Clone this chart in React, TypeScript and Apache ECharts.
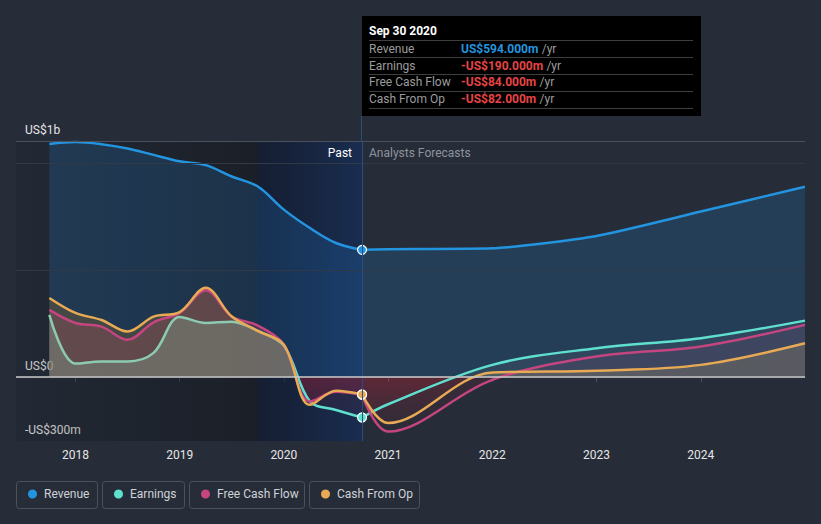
import React, { useEffect, useRef } from "react";
import * as echarts from "echarts";

// ---- data ----
const yearTicks = [2018, 2019, 2020, 2021, 2022, 2023, 2024];
const yLabelValues = [-300, 0, 1103];
const yLabelTexts = ["-US$300m", "US$0", "US$1b"];

const pastPeriods = [2017.75, 2018, 2018.25, 2018.5, 2018.75, 2019, 2019.25, 2019.5, 2019.75, 2020, 2020.25, 2020.5, 2020.75];
const forecastPeriods = [2020.75, 2021, 2022, 2023, 2024, 2025];

const revenuePast = [1089, 1098, 1088, 1068, 1038, 1008, 990, 937, 890, 782, 696, 626, 594];
const revenueForecast = [594, 597, 601, 659, 773, 889];

const earningsPast = [290, 62, 72, 72, 112, 280, 252, 258, 215, 145, -115, -155, -190];
const earningsForecast = [-190, -128, 56, 134, 181, 263];

const fcfPast = [313, 252, 235, 173, 255, 299, 405, 282, 240, 150, -115, -70, -84];
const fcfForecast = [-84, -256, -14, 95, 142, 243];

const cfoPast = [369, 299, 266, 212, 282, 303, 417, 282, 215, 150, -131, -65, -82];
const cfoForecast = [-82, -216, 20, 29, 56, 157];

const tooltipTitle = "Sep 30 2020";
const tooltipLabels = ["Revenue", "Earnings", "Free Cash Flow", "Cash From Op"];
const tooltipValues = ["US$594.000m", "-US$190.000m", "-US$84.000m", "-US$82.000m"];

const names = ["Revenue", "Earnings", "Free Cash Flow", "Cash From Op"];
const colors = ["#2394df", "#5fe0cf", "#c4457f", "#e8aa55"];

const FONT = "Roboto, 'Noto Sans', sans-serif";

function pastData(vals: number[], color: string) {
  return pastPeriods.map((t, i) =>
    i === pastPeriods.length - 1
      ? {
          value: [t, vals[i]],
          symbol: "circle",
          symbolSize: 9,
          itemStyle: { color, borderColor: "#ffffff", borderWidth: 1.2 },
        }
      : { value: [t, vals[i]], symbol: "none" }
  );
}
function fcData(vals: number[]) {
  return forecastPeriods.map((t, i) => [t, vals[i]]);
}

// vertical gradient in pixel space of the plot: positive colour above zero, fading red below
function areaGrad(pos: string, neg: string) {
  const top = 141;
  const bottom = 441;
  const z = (377 - top) / (bottom - top);
  return new echarts.graphic.LinearGradient(
    0,
    top,
    0,
    bottom,
    [
      { offset: 0, color: pos },
      { offset: z, color: pos },
      { offset: z, color: neg },
      { offset: 1, color: "rgba(200,30,50,0)" },
    ],
    true
  );
}

export default function App() {
  const ref = useRef<HTMLDivElement>(null);
  useEffect(() => {
    if (!ref.current) return;
    const chart = echarts.init(ref.current, null, { renderer: "svg" });

    const NEG = "rgba(200,30,50,0.13)";
    const pastFills: any[] = [
      "rgba(33,150,243,0.17)",
      areaGrad("rgba(95,224,207,0.38)", NEG),
      areaGrad("rgba(196,64,123,0.26)", NEG),
      areaGrad("rgba(150,110,40,0.30)", NEG),
    ];
    const fcFills: any[] = [
      "rgba(33,150,243,0.17)",
      areaGrad("rgba(150,150,140,0.09)", NEG),
      areaGrad("rgba(196,64,123,0.10)", NEG),
      areaGrad("rgba(150,140,100,0.30)", NEG),
    ];
    // past earnings line looks muted where it lies under the cash-flow fills
    const pastLineColors: any[] = [
      colors[0],
      new echarts.graphic.LinearGradient(
        280,
        0,
        300,
        0,
        [
          { offset: 0, color: "#8ccab2" },
          { offset: 1, color: colors[1] },
        ],
        true
      ),
      colors[2],
      colors[3],
    ];
    const pastVals = [revenuePast, earningsPast, fcfPast, cfoPast];
    const fcVals = [revenueForecast, earningsForecast, fcfForecast, cfoForecast];
    const order = [0, 1, 2, 3];

    const series: any[] = [
      {
        type: "line",
        name: "bg",
        z: 0,
        silent: true,
        symbol: "none",
        data: [[2017.5, 0]],
        lineStyle: { opacity: 0 },
        markArea: {
          silent: true,
          data: [
            [
              {
                xAxis: 2017.43,
                itemStyle: {
                  color: new echarts.graphic.LinearGradient(0, 0, 1, 0, [
                    { offset: 0, color: "rgba(10,12,16,0.12)" },
                    { offset: 1, color: "rgba(10,12,16,0.42)" },
                  ]),
                },
              },
              { xAxis: 2019.75 },
            ],
            [
              {
                xAxis: 2019.75,
                itemStyle: {
                  color: new echarts.graphic.LinearGradient(0, 0, 1, 0, [
                    { offset: 0, color: "rgba(10,20,45,0.6)" },
                    { offset: 1, color: "rgba(20,45,90,0.7)" },
                  ]),
                },
              },
              { xAxis: 2020.75 },
            ],
          ],
        },
        markLine: {
          silent: true,
          symbol: "none",
          label: { show: false },
          data: [
            { yAxis: 1103, lineStyle: { color: "#4a515d", width: 1, type: "solid" } },
            { yAxis: 1000, lineStyle: { color: "#323946", width: 1, type: "solid" } },
            { yAxis: 500, lineStyle: { color: "#323946", width: 1, type: "solid" } },
            { xAxis: 2020.75, lineStyle: { color: "#27507f", width: 1, type: "solid" } },
          ],
        },
      },
    ];

    order.forEach((k) => {
      series.push({
        type: "line",
        name: names[k],
        z: 2,
        smooth: 0.35,
        symbol: "none",
        data: pastData(pastVals[k], colors[k]),
        lineStyle: { color: pastLineColors[k], width: 2.5 },
        itemStyle: { color: colors[k] },
        areaStyle: { color: pastFills[k], opacity: 1 },
      });
      series.push({
        type: "line",
        name: names[k],
        z: 2,
        smooth: k === 0 ? 0.2 : 0.35,
        symbol: "none",
        data: fcData(fcVals[k]),
        lineStyle: { color: colors[k], width: 2.5 },
        itemStyle: { color: colors[k] },
        areaStyle: { color: fcFills[k], opacity: 1 },
      });
    });

    series.push({
      type: "line",
      name: "zero",
      z: 3,
      silent: true,
      symbol: "none",
      data: [[2017.5, 0]],
      lineStyle: { opacity: 0 },
      markLine: {
        silent: true,
        symbol: "none",
        label: { show: false },
        data: [{ yAxis: 0, lineStyle: { color: "#c8c8c8", width: 1.5, type: "solid" } }],
      },
    });

    const legendLefts = [28, 114, 201, 321];
    const legends = names.map((n, i) => ({
      data: [n],
      left: legendLefts[i],
      top: 488,
      padding: 0,
      icon: "circle",
      itemWidth: 9,
      itemHeight: 9,
      selectedMode: false,
      textStyle: { color: "#cfd2d6", fontSize: 12, fontFamily: FONT, padding: [0, 0, 0, 2] },
    }));

    const boxes = [
      [16.5, 81],
      [102.5, 82],
      [189.5, 115],
      [309.5, 110],
    ];

    const graphic: any[] = [];
    boxes.forEach(([x, w]) =>
      graphic.push({
        type: "rect",
        silent: true,
        z: -1,
        shape: { x, y: 481.5, width: w, height: 27, r: 3 },
        style: { fill: "none", stroke: "#4b525e", lineWidth: 1 },
      })
    );
    graphic.push({
      type: "rect",
      silent: true,
      z: 100,
      shape: { x: 362, y: 16, width: 339, height: 100 },
      style: { fill: "#000000" },
    });
    graphic.push({
      type: "line",
      silent: true,
      z: 100,
      shape: { x1: 361.5, y1: 116, x2: 361.5, y2: 141 },
      style: { stroke: "#27507f", lineWidth: 1 },
    });
    graphic.push({
      type: "text",
      silent: true,
      z: 101,
      x: 369,
      y: 31,
      style: {
        text: tooltipTitle,
        fill: "#ffffff",
        font: `bold 12px ${FONT}`,
        verticalAlign: "middle",
      },
    });
    [40.5, 57.5, 74.5, 91.5, 108.5].forEach((y) =>
      graphic.push({
        type: "line",
        silent: true,
        z: 101,
        shape: { x1: 369, y1: y, x2: 693, y2: y },
        style: { stroke: "#3e3e3e", lineWidth: 1 },
      })
    );
    const rowYs = [48.5, 65.5, 82, 98.5];
    tooltipLabels.forEach((lab, i) => {
      graphic.push({
        type: "text",
        silent: true,
        z: 101,
        x: 369,
        y: rowYs[i],
        style: {
          text: lab,
          fill: "#9c9c9c",
          font: `12px ${FONT}`,
          verticalAlign: "middle",
        },
      });
      graphic.push({
        type: "text",
        silent: true,
        z: 101,
        x: 461,
        y: rowYs[i],
        style: {
          text: `{v|${tooltipValues[i]}} {u|/yr}`,
          verticalAlign: "middle",
          rich: {
            v: {
              fill: i === 0 ? "#2394df" : "#e54545",
              font: `bold 12px ${FONT}`,
            },
            u: { fill: "#9c9c9c", font: `12px ${FONT}` },
          },
        },
      });
    });
    graphic.push({
      type: "text",
      silent: true,
      z: 101,
      x: 352,
      y: 153,
      style: {
        text: "Past",
        fill: "#ffffff",
        font: `12px ${FONT}`,
        align: "right",
        verticalAlign: "middle",
      },
    });
    graphic.push({
      type: "text",
      silent: true,
      z: 101,
      x: 369,
      y: 153,
      style: {
        text: "Analysts Forecasts",
        fill: "#8e939b",
        font: `12px ${FONT}`,
        verticalAlign: "middle",
      },
    });

    chart.setOption({
      animation: false,
      backgroundColor: "#262d39",
      textStyle: { fontFamily: FONT },
      grid: { left: 16, right: 16, top: 141, bottom: 83 },
      xAxis: {
        type: "value",
        min: 2017.43,
        max: 2025,
        axisLine: { show: true, lineStyle: { color: "#4b525e", width: 1 } },
        axisTick: { show: true, customValues: yearTicks, length: 5, lineStyle: { color: "#4b525e" } },
        axisLabel: {
          customValues: yearTicks,
          formatter: (v: number) => String(Math.round(v)),
          color: "#e6e6e6",
          fontSize: 12,
          margin: 8,
          fontFamily: FONT,
        },
        splitLine: { show: false },
      },
      yAxis: {
        type: "value",
        min: -300,
        max: 1103,
        axisLine: { show: false },
        axisTick: { show: false },
        splitLine: { show: false },
        axisLabel: {
          inside: true,
          customValues: yLabelValues,
          formatter: (v: number) => {
            const idx = yLabelValues.indexOf(v);
            return idx >= 0 ? yLabelTexts[idx] : "";
          },
          color: "#e6e6e6",
          fontSize: 12,
          margin: 9,
          verticalAlign: "bottom",
          padding: [0, 0, 5, 0],
          fontFamily: FONT,
        },
      },
      legend: legends,
      series,
      graphic,
    });

    return () => chart.dispose();
  }, []);

  return (
    <div
      ref={ref}
      style={{ position: "absolute", left: 0, top: 0, width: 821, height: 524 }}
    />
  );
}
